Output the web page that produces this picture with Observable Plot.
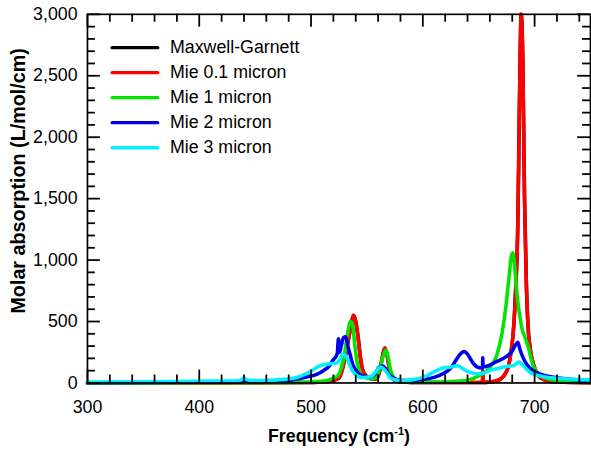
<!DOCTYPE html>
<html>
<head>
<meta charset="utf-8">
<script src="https://cdn.jsdelivr.net/npm/d3@7"></script>
<script src="https://cdn.jsdelivr.net/npm/@observablehq/plot@0.6"></script>
<style>
  html, body { margin: 0; padding: 0; background: white; overflow: hidden; }
</style>
</head>
<body>
<div id="chart"></div>
<script>
// Series: [frequency (cm-1), molar absorption (L/mol/cm)]
const maxwellGarnett = [
  [300,0],[400,0],[450,1],[490,3],[510,8],[520,20],[525,40],[528,110],[531,230],[534,380],[536,480],[538,550],[540,500],[542,380],[544,220],[546,110],[549,60],[553,35],[557,30],[560,55],[562,120],[564,220],[566,285],[568,230],[570,120],[572,50],[575,20],[580,8],[600,3],[640,3],[652,4],[653.4,4],[653.6,100],[653.9,4],[660,8],[665,15],[670,35],[674,80],[677,150],[679,260],[681,420],[683,750],[685,1300],[686.5,2300],[688,3500],[689.5,2600],[691,1500],[692.5,850],[694,480],[696,280],[699,150],[703,65],[708,28],[714,12],[725,5],[750,2]
];
const mie01 = [
  [300,0],[400,0],[450,1],[490,3],[510,8],[520,20],[525,40],[528,110],[531,230],[534,380],[536,480],[538,550],[540,500],[542,380],[544,220],[546,110],[549,60],[553,35],[557,30],[560,55],[562,120],[564,220],[566,285],[568,230],[570,120],[572,50],[575,20],[580,8],[600,3],[640,3],[652,4],[653.4,4],[653.6,100],[653.9,4],[660,8],[665,15],[670,35],[674,80],[677,150],[679,260],[681,420],[683,750],[685,1300],[686.5,2300],[688,3500],[689.5,2600],[691,1500],[692.5,850],[694,480],[696,280],[699,150],[703,65],[708,28],[714,12],[725,5],[750,2]
];
const mie1 = [
  [300,0],[400,1],[440,2],[480,4],[500,8],[510,14],[516,25],[520,40],[524,60],[527,120],[529,190],[531,300],[533,420],[535,500],[537,480],[539,320],[541,180],[543,110],[546,60],[550,40],[555,35],[559,60],[562,130],[565,230],[567,265],[569,210],[571,110],[574,45],[580,15],[600,6],[620,10],[630,14],[640,22],[651,62],[660,125],[666,220],[671,410],[674,600],[677,850],[679,1020],[680.5,1060],[682,960],[683.5,800],[685,660],[687,530],[689,430],[691,380],[693,330],[695,270],[697,190],[699,135],[702,90],[705,60],[710,40],[719,20],[730,12],[750,6]
];
const mie2 = [
  [300,2],[350,3],[400,5],[438,8],[441,18],[445,10],[460,12],[475,18],[488,32],[497,50],[505,70],[511,100],[516,135],[520,190],[522,210],[523.5,240],[524.5,360],[525.5,250],[527,300],[529,370],[531,375],[533,300],[535,230],[537,160],[540,105],[543,75],[548,55],[553,50],[557,70],[561,130],[564,140],[567,110],[570,65],[574,38],[580,22],[590,20],[600,28],[610,45],[618,75],[625,120],[630,190],[634,240],[637,255],[640,235],[643,190],[646,150],[649,128],[652,122],[653.4,125],[653.6,205],[653.9,130],[658,138],[665,170],[674,210],[680,260],[683,310],[685,330],[687,270],[690,200],[693,150],[698,105],[705,72],[712,55],[720,42],[735,28],[750,20]
];
const mie3 = [
  [300,8],[350,10],[400,14],[436,18],[440,40],[444,22],[455,20],[470,25],[487,45],[499,90],[508,140],[516,155],[523,165],[526,190],[528.5,235],[531,220],[534,160],[537,100],[540,65],[546,45],[553,50],[558,90],[562,130],[565,115],[568,80],[572,35],[580,20],[590,25],[600,45],[608,80],[617,120],[625,130],[631,140],[636,115],[640,95],[645,80],[650,75],[656,85],[661,105],[668,120],[676,135],[682,145],[686,170],[689,150],[692,120],[696,85],[700,68],[706,55],[712,45],[720,38],[735,30],[750,25]
];

const seriesNames = ["Maxwell-Garnett", "Mie 0.1 micron", "Mie 1 micron", "Mie 2 micron", "Mie 3 micron"];
const seriesColors = ["#000000", "#ff0000", "#00e600", "#0000e6", "#00f0ff"];
const seriesData = [maxwellGarnett, mie01, mie1, mie2, mie3];

const xTicks = [300, 400, 500, 600, 700];
const yTicks = [0, 500, 1000, 1500, 2000, 2500, 3000];
const xMinor = d3.range(320, 750, 20).filter(v => v % 100 !== 0);
const yMinor = d3.range(100, 3000, 100).filter(v => v % 500 !== 0);

const W = 598, H = 454, ML = 88, MR = 1, MT = 14, MB = 67;
const FW = W - ML - MR, FH = H - MT - MB;
const MAJ = 13, MIN = 8;

const lineMarks = seriesData.map((d, i) => Plot.line(d, {
  x: p => p[0], y: p => p[1], stroke: seriesColors[i], strokeWidth: 3.6,
  curve: "monotone-x"
}));

const legendMarks = [];
seriesNames.forEach((name, i) => {
  legendMarks.push(Plot.vector([name], {
    frameAnchor: "top-left", dx: 25, dy: 33.7 + i * 25.3, rotate: 90, length: 46, anchor: "start",
    stroke: seriesColors[i], strokeWidth: 3.5,
    shape: {draw(ctx, l) { ctx.moveTo(0, 0); ctx.lineTo(0, -l); }}
  }));
  legendMarks.push(Plot.text([name], {
    frameAnchor: "top-left", dx: 83.5, dy: 33.7 + i * 25.3, text: d => d, textAnchor: "start", lineAnchor: "middle", fontSize: 18
  }));
});

const tk = {stroke: "black", strokeWidth: 1.8};
const tickMarks = [
  Plot.tickX(xTicks, {x: d => d, insetTop: FH - MAJ, ...tk}),
  Plot.tickX(xMinor, {x: d => d, insetTop: FH - MIN, ...tk}),
  Plot.tickX(xTicks, {x: d => d, insetBottom: FH - MAJ, ...tk}),
  Plot.tickX(xMinor, {x: d => d, insetBottom: FH - MIN, ...tk}),
  Plot.tickY(yTicks, {y: d => d, insetRight: FW - MAJ, ...tk}),
  Plot.tickY(yMinor, {y: d => d, insetRight: FW - MIN, ...tk}),
  Plot.tickY(yTicks, {y: d => d, insetLeft: FW - MAJ, ...tk}),
  Plot.tickY(yMinor, {y: d => d, insetLeft: FW - MIN, ...tk})
];

const chart = Plot.plot({
  width: W, height: H,
  marginLeft: ML, marginRight: MR, marginTop: MT, marginBottom: MB,
  style: {fontFamily: "'Liberation Sans', Arial, sans-serif", fontSize: "18px", background: "white", color: "black", overflow: "visible"},
  x: {domain: [300, 750]},
  y: {domain: [0, 3000], clamp: true},
  marks: [
    ...lineMarks,
    Plot.frame({stroke: "black", strokeWidth: 1.7}),
    Plot.axisX(xTicks, {anchor: "bottom", tickSize: 0, tickPadding: 17.5, label: null, fontSize: 18}),
    Plot.axisY(yTicks, {anchor: "left", tickSize: 0, tickPadding: 10, tickFormat: d3.format(","), label: null, fontSize: 18}),
    Plot.text(["Molar absorption (L/mol/cm)"], {frameAnchor: "left", dx: -70, dy: -18, rotate: -90, textAnchor: "middle", lineAnchor: "middle", text: d => d, fontWeight: "bold", fontSize: 20}),
    Plot.text(["Frequency (cm-1)"], {frameAnchor: "bottom", dy: 54, lineAnchor: "middle", text: d => d, fontWeight: "bold", fontSize: 18}),
    ...legendMarks,
    ...tickMarks
  ]
});

const root = (chart.tagName && chart.tagName.toLowerCase() === "svg") ? chart : chart.querySelector("svg");

// superscript for the x-axis title
d3.select(root).selectAll("text").filter(function() { return this.textContent === "Frequency (cm-1)"; }).each(function() {
  const t = d3.select(this);
  t.text(null);
  t.append("tspan").text("Frequency (cm");
  t.append("tspan").attr("dy", "-7").attr("font-size", "11").text("-1");
  t.append("tspan").attr("dy", "7").text(")");
});
document.getElementById("chart").appendChild(chart);
</script>
</body>
</html>
